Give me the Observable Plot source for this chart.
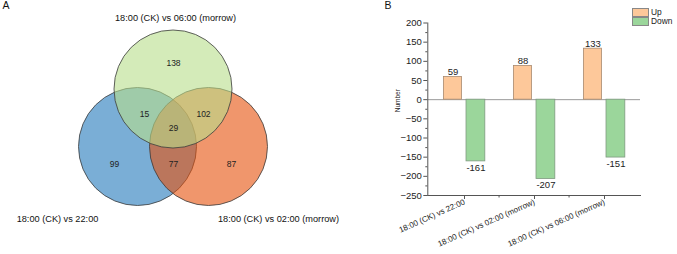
<!DOCTYPE html>
<html>
<head>
<meta charset="utf-8">
<script src="https://cdn.jsdelivr.net/npm/d3@7"></script>
<script src="https://cdn.jsdelivr.net/npm/@observablehq/plot@0.6"></script>
<style>
  html, body { margin: 0; padding: 0; background: #fff; }
  #wrap { position: relative; width: 677px; height: 254px; overflow: hidden; font-family: "Liberation Sans", Arial, sans-serif; }
  #venn { position: absolute; left: 0; top: 0; }
  #bars { position: absolute; left: 380px; top: 0; }
  #legend { position: absolute; left: 632px; top: 7.5px; font-size: 8.4px; line-height: 9.6px; color: #222; }
  #legend .row { display: flex; align-items: center; height: 9.6px; }
  #legend .sw { width: 15px; height: 7px; border: 0.8px solid #888; margin-right: 2px; box-sizing: content-box; }
</style>
</head>
<body>
<div id="wrap">
  <div id="venn"></div>
  <div id="bars"></div>
  <div id="legend"></div>
</div>
<script>
// ---- Panel A: overlap of differentially expressed genes ----
const setNames = ["18:00 (CK) vs 22:00", "18:00 (CK) vs 02:00 (morrow)", "18:00 (CK) vs 06:00 (morrow)"];
const setColors = ["#2178bb", "#e6500a", "#b7de8a"];
// region counts: only 22:00, only 02:00, only 06:00, 22∩06, 02∩06, 22∩02, all three
const regionKeys = ["a", "b", "c", "ac", "bc", "ab", "abc"];
const regionCounts = [99, 87, 138, 15, 102, 77, 29];

// ---- Panel B: up / down regulated genes per comparison ----
const comparisons = ["18:00 (CK) vs 22:00", "18:00 (CK) vs 02:00 (morrow)", "18:00 (CK) vs 06:00 (morrow)"];
const upCounts = [59, 88, 133];
const downCounts = [-161, -207, -151];
const seriesNames = ["Up", "Down"];
const seriesColors = ["#fdc89a", "#9bd69b"];
const seriesStrokes = ["#a88a70", "#7f9a80"];
const yTicks = [-250, -200, -150, -100, -50, 0, 50, 100, 150, 200];

const font = "'Liberation Sans', Arial, sans-serif";

// Venn layout, in panel pixel units
const circleLayout = {a: [137, 146], b: [208, 146], c: [172.5, 88.5]};
const circleR = 59;
const regionLayout = {a: [114, 164], b: [231, 164], c: [173, 63], ac: [144, 114], bc: [203, 114], ab: [173, 164], abc: [173, 128]};
const setLabelLayout = [[57, 219], [278, 219], [175, 18]];

const circles = setNames.map((name, i) => ({
  name, color: setColors[i],
  x: circleLayout["abc"[i]][0], y: circleLayout["abc"[i]][1]
}));
const regions = regionKeys.map((k, i) => ({k, n: regionCounts[i], x: regionLayout[k][0], y: regionLayout[k][1]}));
const setLabels = setNames.map((name, i) => ({name, x: setLabelLayout[i][0], y: setLabelLayout[i][1]}));

const venn = Plot.plot({
  width: 380, height: 254,
  margin: 0,
  x: {domain: [0, 380], range: [0, 380], axis: null},
  y: {domain: [0, 254], range: [0, 254], axis: null},
  style: {fontFamily: font, background: "transparent"},
  marks: [
    Plot.dot(circles, {x: "x", y: "y", r: circleR, fill: d => d.color, fillOpacity: 0.6, stroke: "#3a3a3a", strokeWidth: 0.8}),
    Plot.text(regions, {x: "x", y: "y", text: d => String(d.n), fontSize: 8.5, fill: "#222"}),
    Plot.text(setLabels, {x: "x", y: "y", text: "name", fontSize: 9.2, fill: "#111"}),
    Plot.text(["A"], {frameAnchor: "top-left", dx: 2, dy: 1, fontSize: 10.5, fill: "#111", lineAnchor: "top"})
  ]
});
document.getElementById("venn").appendChild(venn);

// grouped bars
const rows = comparisons.flatMap((c, i) => [
  {cat: c, series: "Up", value: upCounts[i]},
  {cat: c, series: "Down", value: downCounts[i]}
]);
const W = 297, ML = 47.3, MR = 37;
const bw = (W - ML - MR) / comparisons.length;
const upIn = {insetLeft: bw * 0.203, insetRight: bw * 0.529};
const downIn = {insetLeft: bw * 0.522, insetRight: bw * 0.2};
const upDx = bw * ((0.203 + (1 - 0.529)) / 2 - 0.5);
const downDx = bw * ((0.522 + (1 - 0.2)) / 2 - 0.5);
const minorY = d3.range(-225, 200, 50);

const bars = Plot.plot({
  width: W, height: 254,
  marginLeft: ML, marginRight: MR, marginTop: 22.5, marginBottom: 59,
  x: {type: "band", domain: comparisons, padding: 0, axis: null},
  y: {domain: [-250, 200], axis: null},
  color: {domain: seriesNames, range: seriesColors},
  style: {fontFamily: font, background: "transparent", color: "#222"},
  marks: [
    Plot.ruleY([0], {stroke: "#999", strokeWidth: 1}),
    Plot.barY(rows.filter(d => d.series === "Up"), {x: "cat", y: "value", fill: "series", stroke: seriesStrokes[0], strokeWidth: 0.8, ...upIn}),
    Plot.barY(rows.filter(d => d.series === "Down"), {x: "cat", y: "value", fill: "series", stroke: seriesStrokes[1], strokeWidth: 0.8, ...downIn}),
    Plot.text(rows.filter(d => d.series === "Up"), {x: "cat", y: "value", text: d => String(d.value), dx: upDx, dy: -2, lineAnchor: "bottom", fontSize: 9.5, fill: "#222"}),
    Plot.text(rows.filter(d => d.series === "Down"), {x: "cat", y: "value", text: d => String(d.value), dx: downDx, dy: 2.5, lineAnchor: "top", fontSize: 9.5, fill: "#222"}),
    Plot.frame({anchor: "left", stroke: "#555"}),
    Plot.frame({anchor: "bottom", stroke: "#555"}),
    Plot.axisY(yTicks, {tickSize: 4, tickPadding: 2, fontSize: 9.5, label: null, stroke: "#555"}),
    Plot.axisY(minorY, {tickSize: 2, tickFormat: () => "", label: null, stroke: "#555"}),
    Plot.axisX({tickSize: 4, tickPadding: 2, tickRotate: -24, fontSize: 8, label: null, stroke: "#555"}),
    Plot.axisX(comparisons.slice(1), {tickSize: 2.5, tickFormat: () => "", label: null, dx: -bw / 2, stroke: "#555"}),
    Plot.text(["Number"], {frameAnchor: "left", rotate: -90, dx: -30, dy: 3, fontSize: 6.5, fill: "#222"}),
    Plot.text(["B"], {frameAnchor: "top-left", dx: -ML + 4, dy: -22.5 + 1, fontSize: 10.5, fill: "#111", lineAnchor: "top"})
  ]
});
document.getElementById("bars").appendChild(bars);

// legend
const legend = document.getElementById("legend");
seriesNames.forEach((s, i) => {
  const row = document.createElement("div");
  row.className = "row";
  const sw = document.createElement("span");
  sw.className = "sw";
  sw.style.background = seriesColors[i];
  const lab = document.createElement("span");
  lab.textContent = s;
  row.appendChild(sw);
  row.appendChild(lab);
  legend.appendChild(row);
});
</script>
</body>
</html>
